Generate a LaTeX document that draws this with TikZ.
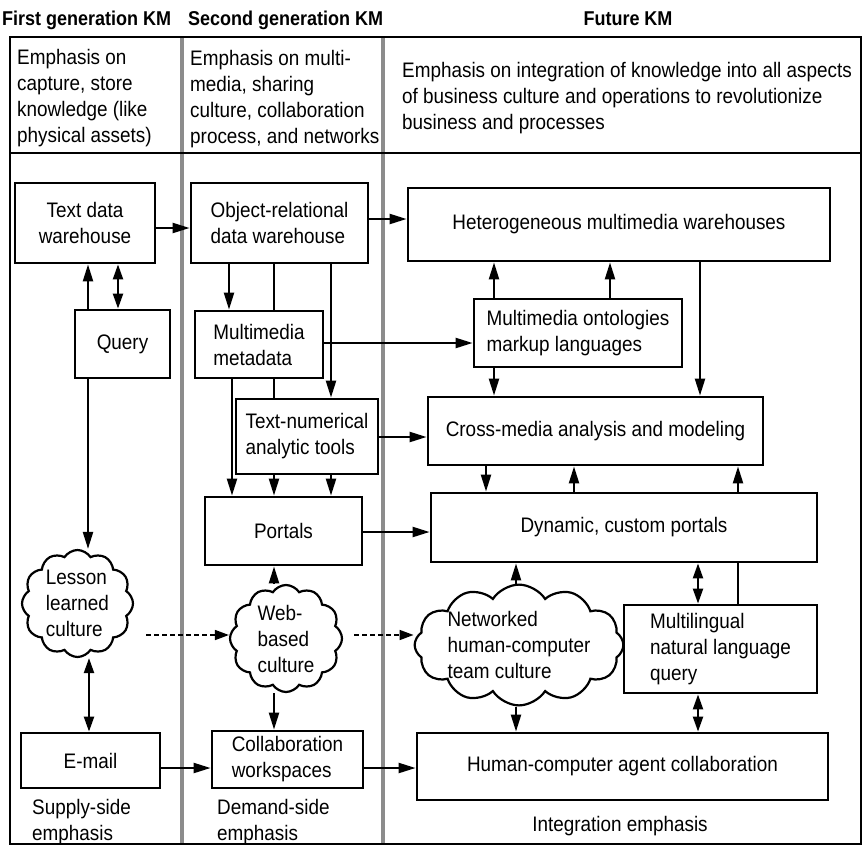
\documentclass[tikz,border=0pt]{standalone}
\usepackage{fontspec}
\setmainfont[FakeStretch=0.9]{Liberation Sans}
\usepackage{tikz}
\usetikzlibrary{arrows.meta,shapes.symbols}
\definecolor{colrule}{RGB}{140,140,140}
\newcommand{\kmfont}{\fontsize{21}{26}\selectfont}
\newcommand{\genfont}{\fontsize{20}{24}\selectfont\bfseries}
\tikzset{
  boxed/.style={draw,line width=2.8pt,inner sep=0pt,align=left,font=\kmfont},
  puff/.style={draw,cloud,cloud puffs=12,cloud puff arc=115,cloud ignores aspect,%
    line width=2.2pt,inner sep=0pt,align=left,font=\kmfont},
  remark/.style={inner sep=0pt,align=left,font=\kmfont},
  genhead/.style={inner sep=0pt,font=\genfont},
  flow/.style={-{Triangle[length=17pt,width=10pt]},line width=2.2pt},
  twoway/.style={{Triangle[length=15pt,width=10pt]}-{Triangle[length=15pt,width=10pt]},line width=2.2pt},
  tie/.style={line width=2.2pt},
  drift/.style={-{Triangle[length=14pt,width=10pt]},line width=1.6pt,dash pattern=on 5pt off 3pt},
}
\begin{document}
\begin{tikzpicture}[x=1pt,y=-1pt]
\useasboundingbox (0,0) rectangle (862,846);
% column rules and frame
\draw[colrule,line width=4pt] (182,37) -- (182,844);
\draw[colrule,line width=4pt] (383,37) -- (383,844);
\draw[line width=2.2pt] (10,37) rectangle (861,844);
\draw[line width=2.2pt] (10,153) -- (861,153);

\node[genhead,anchor=base west] (gen1) at (2,25) {First generation KM};
\node[genhead,anchor=base west] (gen2) at (188,25) {Second generation KM};
\node[genhead,anchor=base] (gen3) at (628,25) {Future KM};

\node[remark,anchor=north west] (aim1) at (17,49) {Emphasis on\\capture, store\\knowledge (like\\physical assets)};
\node[remark,anchor=north west] (aim2) at (190,50) {Emphasis on multi-\\media, sharing\\culture, collaboration\\process, and networks};
\node[remark,anchor=north west] (aim3) at (402,62) {Emphasis on integration of knowledge into all aspects\\of business culture and operations to revolutionize\\business and processes};

\node[boxed,align=center,minimum width=140pt,minimum height=80pt] (tdw) at (85,223) {Text data\\warehouse};
\node[boxed,minimum width=177pt,minimum height=80pt] (ordw) at (279.5,223) {Object-relational\\data warehouse};
\node[boxed,minimum width=422pt,minimum height=73pt] (hmw) at (619,224.5) {Heterogeneous multimedia warehouses};
\node[boxed,minimum width=95pt,minimum height=68pt] (query) at (122.5,344) {Query};
\node[boxed,minimum width=128pt,minimum height=67pt] (mmeta) at (259,344.5) {Multimedia\\metadata};
\node[boxed,minimum width=208pt,minimum height=68pt] (onto) at (578,333) {Multimedia ontologies\\markup languages};
\node[boxed,minimum width=142pt,minimum height=75pt] (tnat) at (307,436.5) {Text-numerical\\analytic tools};
\node[boxed,minimum width=335pt,minimum height=68pt] (cross) at (595.5,431) {Cross-media analysis and modeling};
\node[boxed,minimum width=157pt,minimum height=68pt] (portals) at (283.5,531) {Portals};
\node[boxed,minimum width=386pt,minimum height=69pt] (dyn) at (624,527.5) {Dynamic, custom portals};
\node[boxed,minimum width=193pt,minimum height=88pt] (mling) at (720.5,649) {Multilingual\\natural language\\query};
\node[boxed,minimum width=139pt,minimum height=55pt] (email) at (90.5,760.5) {E-mail};
\node[boxed,minimum width=151pt,minimum height=57pt] (collab) at (287.5,759.5) {Collaboration\\workspaces};
\node[boxed,minimum width=411pt,minimum height=67pt] (hca) at (622.5,766.5) {Human-computer agent collaboration};

\node[puff,minimum width=111pt,minimum height=107pt] (lesson) at (77.5,603.5) {Lesson\\learned\\culture};
\node[puff,minimum width=112pt,minimum height=107pt] (web) at (286,638.5) {Web-\\based\\culture};
\node[puff,minimum width=189pt,minimum height=119pt] (net) at (519,645) {Networked\\human-computer\\team culture};

\node[remark,anchor=north west] (supply) at (32,799) {Supply-side\\emphasis};
\node[remark,anchor=north west] (demand) at (217,799) {Demand-side\\emphasis};
\node[remark,anchor=base] (integ) at (620,831) {Integration emphasis};

\draw[flow] (tdw.east |- 0,228) -- (ordw.west |- 0,228);
\draw[flow] (ordw.east |- 0,219) -- (hmw.west |- 0,219);
\draw[flow] (query.north -| 88,0) -- (tdw.south -| 88,0);
\draw[twoway] (tdw.south -| 118,0) -- (query.north -| 118,0);
\draw[flow] (query.south -| 88,0) -- (lesson.north -| 88,0);
\draw[flow] (ordw.south -| 229,0) -- (mmeta.north -| 229,0);
\draw[tie] (ordw.south -| 274,0) -- (mmeta.north -| 274,0);
\draw[flow] (ordw.south -| 331,0) -- (tnat.north -| 331,0);
\draw[flow] (mmeta.east |- 0,343) -- (onto.west |- 0,343);
\draw[flow] (mmeta.south -| 232,0) -- (portals.north -| 232,0);
\draw[tie] (mmeta.south -| 274,0) -- (tnat.north -| 274,0);
\draw[flow] (tnat.south -| 274,0) -- (portals.north -| 274,0);
\draw[flow] (tnat.south -| 331,0) -- (portals.north -| 331,0);
\draw[flow] (tnat.east |- 0,437) -- (cross.west |- 0,437);
\draw[flow] (portals.east |- 0,532) -- (dyn.west |- 0,532);
\draw[flow] (onto.north -| 494,0) -- (hmw.south -| 494,0);
\draw[flow] (onto.north -| 610,0) -- (hmw.south -| 610,0);
\draw[flow] (onto.south -| 494,0) -- (cross.north -| 494,0);
\draw[flow] (hmw.south -| 700,0) -- (cross.north -| 700,0);
\draw[flow] (cross.south -| 486,0) -- (dyn.north -| 486,0);
\draw[flow] (dyn.north -| 574,0) -- (cross.south -| 574,0);
\draw[flow] (dyn.north -| 738,0) -- (cross.south -| 738,0);
\draw[tie] (mling.north -| 738,0) -- (dyn.south -| 738,0);
\draw[twoway] (dyn.south -| 698,0) -- (mling.north -| 698,0);
\draw[twoway] (mling.south -| 698,0) -- (hca.north -| 698,0);
\draw[flow] (net.north -| 516,0) -- (dyn.south -| 516,0);
\draw[flow] (net.south -| 516,0) -- (hca.north -| 516,0);
\draw[twoway] (lesson.south -| 89,0) -- (email.north -| 89,0);
\draw[flow] (web.north -| 274,0) -- (portals.south -| 274,0);
\draw[flow] (web.south -| 274,0) -- (collab.north -| 274,0);
\draw[flow] (email.east |- 0,768) -- (collab.west |- 0,768);
\draw[flow] (collab.east |- 0,768) -- (hca.west |- 0,768);
\draw[drift,shorten <=12pt] (lesson.east |- 0,635) -- (web.west |- 0,635);
\draw[drift,shorten <=11pt] (web.east |- 0,635) -- (net.west |- 0,635);
\end{tikzpicture}
\end{document}
